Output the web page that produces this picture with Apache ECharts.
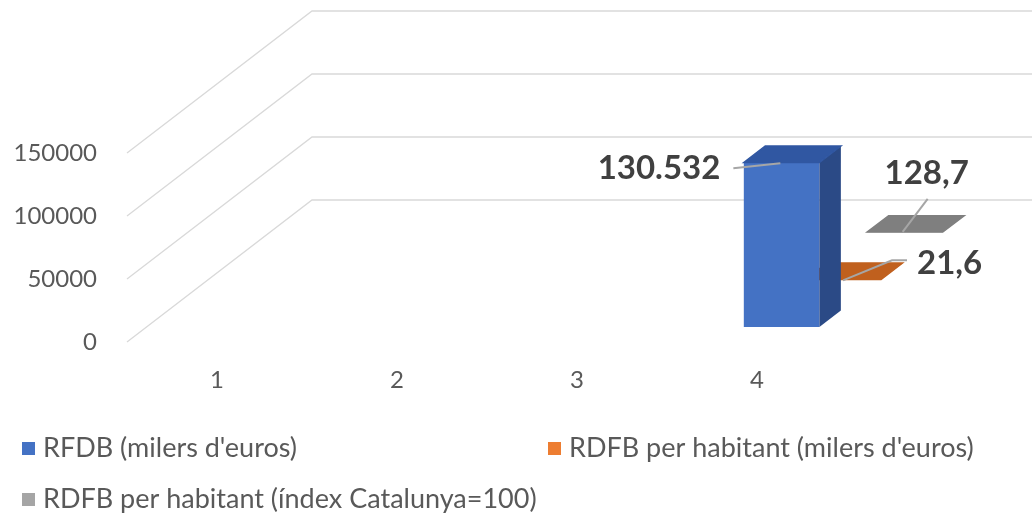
<!DOCTYPE html>
<html>
<head>
<meta charset="utf-8">
<script src="https://cdn.jsdelivr.net/npm/echarts@6/dist/echarts.min.js"></script>
<style>
html,body{margin:0;padding:0;background:#fff;}
#chart{width:1035px;height:515px;}
</style>
</head>
<body>
<div id="chart"></div>
<script>
// data
const categories = ['1', '2', '3', '4'];
const yTicks = [0, 50000, 100000, 150000];
const rfdb = [null, null, null, 130532];          // RFDB (milers d'euros)
const rdfbHab = [null, null, null, 21.6];         // RDFB per habitant (milers d'euros)
const rdfbIdx = [null, null, null, 128.7];        // RDFB per habitant (índex Catalunya=100)

const FONT = 'Lato, "Open Sans", sans-serif';
const TXT = '#595959';
// 3d depth vector (back wall shift)
const DX = 185, DY = -142;

function fmt(v) {
    let s = String(v).split('.');
    let int = s[0].replace(/\B(?=(\d{3})+(?!\d))/g, '.');
    return s.length > 1 ? int + ',' + s[1] : int;
}

function toData(arr) {
    let out = [];
    arr.forEach((v, i) => { if (v !== null) out.push([i, v]); });
    return out;
}

function wallItem(params, api) {
    let cs = params.coordSys;
    let y = api.coord([0, api.value(1)])[1];
    let x0 = cs.x;
    return {
        type: 'polyline',
        shape: { points: [[x0, y], [x0 + DX, y + DY], [cs.x + cs.width + DX, y + DY]] },
        style: { stroke: '#d9d9d9', lineWidth: 1.3, fill: null },
        silent: true
    };
}

// row = depth row, faces = [front, side, top], lab = label offsets
function barRender(row, faces, lab) {
    return function (params, api) {
        let c = api.value(0), v = api.value(1);
        let base = api.coord([c, 0]);
        let top = api.coord([c, v]);
        let bw = api.size([1, 0])[0] * 0.42;
        let xa = base[0] - bw / 2 + 5, xb = xa + bw;
        let t1 = row / 3 + 0.106, t2 = t1 + 0.116, tm = (t1 + t2) / 2;
        let p = (x, y, t) => [x + t * DX, y + t * DY];
        let yb = base[1], yt = top[1];
        let cx = (xa + xb) / 2 + tm * DX, cy = yt + tm * DY;
        let children = [
            { type: 'polygon', shape: { points: [p(xa, yb, t1), p(xb, yb, t1), p(xb, yt, t1), p(xa, yt, t1)] }, style: { fill: faces[0] } },
            { type: 'polygon', shape: { points: [p(xb, yb, t1), p(xb, yb, t2), p(xb, yt, t2), p(xb, yt, t1)] }, style: { fill: faces[1] } },
            { type: 'polygon', shape: { points: [p(xa, yt, t1), p(xb, yt, t1), p(xb, yt, t2), p(xa, yt, t2)], }, style: { fill: faces[2], stroke: faces[2], lineWidth: 1.5 } },
            { type: 'polyline', shape: { points: lab.line.map(d => [cx + d[0], cy + d[1]]) }, style: { stroke: '#a6a6a6', lineWidth: 2, fill: null }, z2: 5 },
            { type: 'text', x: cx + lab.text[0], y: cy + lab.text[1], style: { text: fmt(v), fill: '#404040', font: 'bold 33px ' + FONT, align: lab.align, verticalAlign: 'middle' }, z2: 6 }
        ];
        return { type: 'group', children: children };
    };
}

const chart = echarts.init(document.getElementById('chart'));
const option = {
    animation: false,
    textStyle: { fontFamily: FONT },
    grid: { left: 127, top: 153, width: 720, height: 189 },
    xAxis: {
        type: 'category',
        data: categories,
        axisLine: { show: false },
        axisTick: { show: false },
        axisLabel: { color: TXT, fontSize: 24, fontFamily: FONT, margin: 26 }
    },
    yAxis: {
        type: 'value',
        min: 0, max: 150000, interval: 50000,
        axisLine: { show: false },
        axisTick: { show: false },
        splitLine: { show: false },
        axisLabel: { color: TXT, fontSize: 24, fontFamily: FONT, margin: 30, formatter: v => String(v) }
    },
    legend: [
        { left: 22, top: 435, data: ["RFDB (milers d'euros)"] },
        { left: 548, top: 435, data: ["RDFB per habitant (milers d'euros)"] },
        { left: 22, top: 486, data: ["RDFB per habitant (índex Catalunya=100)"] }
    ].map(l => Object.assign(l, {
        icon: 'rect', itemWidth: 13, itemHeight: 13, itemGap: 10, padding: 0,
        textStyle: { color: TXT, fontSize: 27, lineHeight: 26, fontFamily: FONT, padding: [0, 0, 0, 3] }
    })),
    series: [
        {
            name: 'walls', type: 'custom', z: 1, silent: true,
            data: yTicks.map(v => [0, v]),
            renderItem: wallItem
        },
        {
            name: "RFDB (milers d'euros)", type: 'custom', z: 4,
            itemStyle: { color: '#4472c4' },
            data: toData(rfdb),
            renderItem: barRender(0, ['#4472c4', '#2b4a86', '#3057a2'],
                { line: [[-59, 14], [-12, 9]], text: [-72, 14], align: 'right' })
        },
        {
            name: "RDFB per habitant (milers d'euros)", type: 'custom', z: 3,
            itemStyle: { color: '#ed7d31' },
            data: toData(rdfbHab),
            renderItem: barRender(1, ['#c0601e', '#a9541a', '#c0601e'],
                { line: [[-11, 9], [38, -11], [53, -11]], text: [63, -8], align: 'left' })
        },
        {
            name: "RDFB per habitant (índex Catalunya=100)", type: 'custom', z: 2,
            itemStyle: { color: '#a5a5a5' },
            data: toData(rdfbIdx),
            renderItem: barRender(2, ['#7f7f7f', '#6f6f6f', '#7f7f7f'],
                { line: [[-13, 8], [12, -25]], text: [11, -51], align: 'center' })
        }
    ]
};
chart.setOption(option);
window.onresize = function () { chart.resize(); };
</script>
</body>
</html>
